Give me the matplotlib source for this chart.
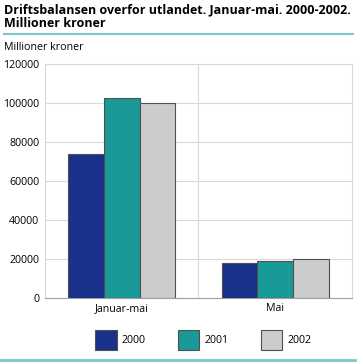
import matplotlib.pyplot as plt
import numpy as np
from matplotlib.lines import Line2D

plt.rcParams['font.family'] = ['Open Sans', 'DejaVu Sans']

categories = ['Januar-mai', 'Mai']
years = ['2000', '2001', '2002']
v2000 = [73700, 17800]
v2001 = [102700, 19000]
v2002 = [100150, 19850]
colors = ['#1a318c', '#1a9999', '#cccccc']

fig = plt.figure(figsize=(3.57, 3.62), dpi=100)
ax = fig.add_axes([0.126, 0.177, 0.86, 0.646])

x = np.arange(len(categories))
w = 0.233
for i, (vals, c) in enumerate(zip([v2000, v2001, v2002], colors)):
    ax.bar(x + (i - 1) * w, vals, w, color=c, edgecolor='#505050', linewidth=0.8,
           label=years[i], zorder=3)

ax.set_xlim(-0.5, 1.5)
ax.set_ylim(0, 120000)
ax.set_yticks(range(0, 120001, 20000))
ax.set_xticks(x)
ax.set_xticklabels(categories)
ax.tick_params(length=0, labelsize=7.7, pad=4)
ax.grid(axis='y', color='#d9d9d9', linewidth=0.8, zorder=0)
ax.axvline(0.5, color='#d9d9d9', linewidth=0.8, zorder=0)
for s in ax.spines.values():
    s.set_color('#d9d9d9')
    s.set_linewidth(0.8)
ax.spines['bottom'].set_color('#a0a0a0')

fig.text(0.012, 0.99, 'Driftsbalansen overfor utlandet. Januar-mai. 2000-2002.\nMillioner kroner',
         fontsize=9.0, fontweight='bold', va='top', ha='left', linespacing=1.05)
fig.add_artist(Line2D([0.012, 0.988], [0.907, 0.907], color='#7cc6c6', linewidth=1.5))
fig.text(0.012, 0.885, 'Millioner kroner', fontsize=7.7, va='top', ha='left')

leg = fig.legend(loc='center', bbox_to_anchor=(0.57, 0.062), ncol=3, frameon=False,
                 fontsize=7.7, handlelength=2.0, handleheight=2.5, columnspacing=3.0,
                 handletextpad=0.5)
fig.add_artist(Line2D([0.0, 1.0], [0.006, 0.006], color='#7cc6c6', linewidth=2))

fig.savefig('out.png', dpi=100)
